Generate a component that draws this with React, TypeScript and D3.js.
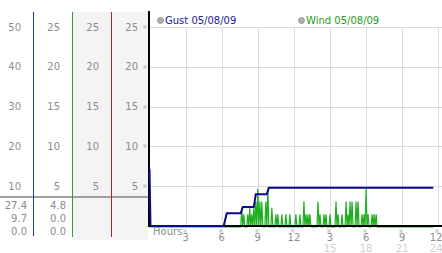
import React from "react";
import * as d3 from "d3";

// ---- data ----
const hourTicks = [3, 6, 9, 12, 15, 18, 21, 24];
const hourLabels = ["3", "6", "9", "12", "3", "6", "9", "12"];
const hourLabels2 = ["", "", "", "", "15", "18", "21", "24"];
const gridValues = [5, 10, 15, 20, 25];
const col1Labels = ["10", "20", "30", "40", "50"];
const col2Labels = ["5", "10", "15", "20", "25"];
const col3Labels = ["5", "10", "15", "20", "25"];
const col4Labels = ["5", "10", "15", "20", "25"];
const stats1 = ["27.4", "9.7", "0.0"];
const stats2 = ["4.8", "0.0", "0.0"];

// gust readings (minutes since midnight, value)
const gustMinutes = [0, 5, 370, 385, 455, 465, 520, 530, 585, 595, 1415];
const gustValues = [7.2, 0, 0, 1.6, 1.6, 2.4, 2.4, 4.0, 4.0, 4.8, 4.8];

// wind readings every 5 minutes starting at 07:30
const windStartMinute = 450;
const windStep = 5;
const windValues = [
  0, 0, 2.4, 0, 1.6, 0, 0, 0, 1.6, 0,
  2.4, 0, 1.6, 0, 2.4, 0, 3.2, 0, 4.8, 0,
  3.2, 0, 3.2, 0, 0, 0, 3.2, 0, 4.8, 0,
  0, 0, 2.4, 0, 0, 0, 1.6, 0, 1.6, 0,
  0, 0, 1.6, 0, 0, 0, 1.6, 0, 0, 0,
  1.6, 0, 0, 0, 0, 0, 1.6, 0, 0, 0,
  1.6, 0, 0, 0, 3.2, 0, 1.6, 0, 1.6, 0,
  1.6, 0, 0, 0, 0, 0, 0, 0, 3.2, 0,
  1.6, 0, 0, 0, 1.6, 0, 1.6, 0, 0, 0,
  1.6, 0, 0, 0, 0, 0, 3.2, 0, 1.6, 0,
  0, 0, 1.6, 0, 0, 0, 3.2, 0, 1.6, 0,
  3.2, 0, 3.2, 0, 0, 0, 3.2, 0, 3.2, 0,
  0, 0, 1.6, 0, 1.6, 0, 4.8, 0, 1.6, 0,
  0, 0, 1.6, 0, 1.6, 0, 1.6, 0, 0,
];
const windFirstMinute = 0;
const windLastMinute = 1415;

const FONT = "DejaVu Sans, Verdana, sans-serif";
const GRAY = "#8c8c8c";

function Mark({ x, y }: { x: number; y: number }) {
  const xi = Math.round(x);
  const yi = Math.round(y);
  const pts = [[-1, -1], [1, -1], [0, 0], [-1, 1], [1, 1]];
  return (
    <g>
      {pts.map((p, i) => (
        <rect key={i} x={xi + p[0] - 0.5} y={yi + p[1] - 0.5} width={1} height={1} fill="#999" />
      ))}
    </g>
  );
}

export default function App() {
  const W = 442, H = 253;
  const x = d3.scaleLinear().domain([0, 1440]).range([149.5, 438.3]);
  const y = d3.scaleLinear().domain([0, 25]).range([226, 27]);
  const y1 = d3.scaleLinear().domain([0, 50]).range([226, 27]);

  const gust: [number, number][] = gustMinutes.map((m, i) => [m, gustValues[i]]);
  const wind: [number, number][] = [[windFirstMinute, 0]];
  windValues.forEach((v, i) => wind.push([windStartMinute + i * windStep, v]));
  wind.push([windLastMinute, 0]);

  const line = d3.line<[number, number]>().x((d) => x(d[0])).y((d) => y(d[1]));

  const colTop = 12;

  return (
    <svg width={W} height={H} style={{ position: "absolute", left: 0, top: 0, background: "#fff" }} fontFamily={FONT}>
      {/* left panel backgrounds */}
      <rect x={72} y={colTop} width={76} height={228} fill="#f4f4f4" />
      {/* grid */}
      {gridValues.map((v) => (
        <line key={"h" + v} x1={149} x2={W} y1={Math.round(y(v)) + 0.5} y2={Math.round(y(v)) + 0.5} stroke="#dcdcdc" />
      ))}
      {hourTicks.map((h) => (
        <line key={"v" + h} x1={Math.round(x(h * 60)) + 0.5} x2={Math.round(x(h * 60)) + 0.5} y1={y(25)} y2={226} stroke="#dcdcdc" />
      ))}
      {/* left label columns */}
      {col1Labels.map((t, i) => (
        <text key={"c1" + i} x={21} y={y1(+t) + 3.5} fontSize={10} fill={GRAY} textAnchor="end">{t}</text>
      ))}
      {col2Labels.map((t, i) => (
        <text key={"c2" + i} x={60} y={y(+t) + 3.5} fontSize={10} fill={GRAY} textAnchor="end">{t}</text>
      ))}
      {col3Labels.map((t, i) => (
        <text key={"c3" + i} x={99} y={y(+t) + 3.5} fontSize={10} fill={GRAY} textAnchor="end">{t}</text>
      ))}
      {col4Labels.map((t, i) => (
        <text key={"c4" + i} x={138} y={y(+t) + 3.5} fontSize={10} fill={GRAY} textAnchor="end">{t}</text>
      ))}
      {col4Labels.map((t, i) => (
        <Mark key={"m4" + i} x={145} y={y(+t)} />
      ))}
      {/* separator */}
      <rect x={0} y={196} width={148} height={2} fill="#a0a0a0" />
      {/* stats */}
      {stats1.map((t, i) => (
        <text key={"s1" + i} x={27} y={209 + i * 13} fontSize={10} fill={GRAY} textAnchor="end">{t}</text>
      ))}
      {stats2.map((t, i) => (
        <text key={"s2" + i} x={66} y={209 + i * 13} fontSize={10} fill={GRAY} textAnchor="end">{t}</text>
      ))}
      {/* column divider lines */}
      <line x1={33.5} x2={33.5} y1={colTop} y2={236} stroke="#1c3c9c" />
      <line x1={72.5} x2={72.5} y1={colTop} y2={237} stroke="#3a9a3a" />
      <line x1={111.5} x2={111.5} y1={colTop} y2={237} stroke="#a82828" />
      {/* axes */}
      <rect x={148} y={11} width={2} height={216} fill="#000" />
      {/* wind line */}
      <path d={line(wind) || ""} transform="translate(0,1)" fill="none" stroke="#1fae1f" strokeWidth={1.2} />
      <rect x={149} y={225} width={W - 149} height={2} fill="#000" />
      {/* gust line */}
      <path d={line(gust) || ""} fill="none" stroke="#0a0a8a" strokeWidth={2} />
      {/* x axis labels */}
      <text x={153} y={235} fontSize={10} fill={GRAY}>Hours</text>
      {hourTicks.map((h, i) => {
        const xx = Math.min(x(h * 60), 436);
        return (
          <g key={"t" + h}>
            <Mark x={x(h * 60) - 1} y={231} />
            <text x={xx} y={241} fontSize={10} fill={GRAY} textAnchor="middle">{hourLabels[i]}</text>
            {hourLabels2[i] && (
              <text x={xx} y={252} fontSize={10} fill="#cfcfcf" textAnchor="middle">{hourLabels2[i]}</text>
            )}
          </g>
        );
      })}
      {/* legend */}
      <circle cx={160.5} cy={20.5} r={3} fill="#b0b0b0" stroke="#8a8a8a" strokeWidth={0.8} />
      <text x={165} y={24} fontSize={10} fill="#1a1a9a">Gust 05/08/09</text>
      <circle cx={301.5} cy={20.5} r={3} fill="#b0b0b0" stroke="#8a8a8a" strokeWidth={0.8} />
      <text x={306} y={24} fontSize={10} fill="#1f9a1f">Wind 05/08/09</text>
    </svg>
  );
}
